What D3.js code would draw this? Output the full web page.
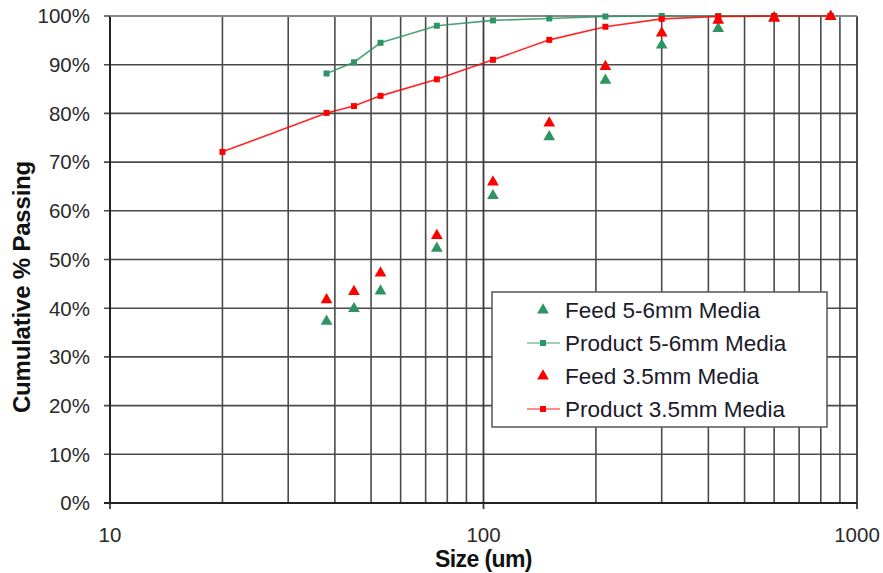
<!DOCTYPE html>
<html>
<head>
<meta charset="utf-8">
<script src="https://cdn.jsdelivr.net/npm/d3@7"></script>
<style>
  body { margin: 0; background: #fff; }
  svg { display: block; font-family: "Liberation Sans", Arial, sans-serif; }
</style>
</head>
<body>
<svg id="chart" width="883" height="573"></svg>
<script>
// sieve sizes (um)
var sizes = [38, 45, 53, 75, 106, 150, 212, 300, 425, 600, 850];
var sizes35 = [20, 38, 45, 53, 75, 106, 150, 212, 300, 425, 600, 850];
// cumulative % passing
var feed56 = [37.3, 39.9, 43.5, 52.3, 63.1, 75.2, 86.8, 94.0, 97.4, 99.7, 99.9];
var prod56 = [88.2, 90.5, 94.5, 98.0, 99.1, 99.5, 99.9, 100, 100, 100, 100];
var feed35 = [41.7, 43.4, 47.2, 54.9, 65.9, 78.0, 89.6, 96.5, 99.1, 99.5, 99.9];
var prod35 = [72.1, 80.1, 81.5, 83.6, 87.0, 91.0, 95.1, 97.8, 99.4, 99.9, 100, 100];

var xTicks = [10, 100, 1000];
var yTicks = [0, 10, 20, 30, 40, 50, 60, 70, 80, 90, 100];
var legendNames = ["Feed 5-6mm Media", "Product 5-6mm Media", "Feed 3.5mm Media", "Product 3.5mm Media"];

var green = "#2e9463", red = "#ff0000";

// plot area (window.top is reserved, so own names)
var pLeft = 110, pRight = 857, pTop = 16, pBottom = 503;

var x = d3.scaleLog().domain([10, 1000]).range([pLeft, pRight]);
var y = d3.scaleLinear().domain([0, 100]).range([pBottom, pTop]);

var svg = d3.select("#chart");

// grid: minor decade lines
var gridX = [];
for (var p = 10; p < 1000; p *= 10) {
    for (var k = 2; k <= 9; k++) gridX.push(p * k);
}
svg.append("g").selectAll("line")
    .data(gridX)
    .enter().append("line")
    .attr("x1", d => x(d)).attr("x2", d => x(d))
    .attr("y1", pTop).attr("y2", pBottom)
    .attr("stroke", "#4a4a4a").attr("stroke-width", 1.6);

svg.append("g").selectAll("line")
    .data(yTicks)
    .enter().append("line")
    .attr("x1", pLeft - 6).attr("x2", pRight)
    .attr("y1", d => y(d)).attr("y2", d => y(d))
    .attr("stroke", "#4a4a4a").attr("stroke-width", 1.6);

// major x lines
svg.append("g").selectAll("line")
    .data(xTicks)
    .enter().append("line")
    .attr("x1", d => x(d)).attr("x2", d => x(d))
    .attr("y1", pTop).attr("y2", pBottom + 6)
    .attr("stroke", "#3a3a3a").attr("stroke-width", 1.8);

// axes lines
svg.append("line").attr("x1", pLeft).attr("x2", pLeft).attr("y1", pTop).attr("y2", pBottom)
    .attr("stroke", "#222").attr("stroke-width", 2);
svg.append("line").attr("x1", pLeft - 6).attr("x2", pRight).attr("y1", pBottom).attr("y2", pBottom)
    .attr("stroke", "#222").attr("stroke-width", 2);
svg.append("line").attr("x1", pLeft).attr("x2", pRight).attr("y1", pTop).attr("y2", pTop)
    .attr("stroke", "#888").attr("stroke-width", 2);

// tick labels
svg.append("g").selectAll("text")
    .data(yTicks)
    .enter().append("text")
    .attr("x", 90).attr("y", d => y(d))
    .attr("dy", "0.36em")
    .attr("text-anchor", "end")
    .attr("font-size", 20.5)
    .attr("fill", "#2a2a2a")
    .text(d => d + "%");

svg.append("g").selectAll("text")
    .data(xTicks)
    .enter().append("text")
    .attr("x", d => x(d)).attr("y", 542)
    .attr("text-anchor", "middle")
    .attr("font-size", 20.5)
    .attr("fill", "#2a2a2a")
    .text(d => d);

// axis titles
svg.append("text")
    .attr("x", (pLeft + pRight) / 2).attr("y", 567)
    .attr("text-anchor", "middle")
    .attr("font-size", 23).attr("font-weight", "bold")
    .attr("letter-spacing", -0.6)
    .attr("fill", "#111")
    .text("Size (um)");

svg.append("text")
    .attr("transform", "translate(30,287) rotate(-90)")
    .attr("text-anchor", "middle")
    .attr("font-size", 24).attr("font-weight", "bold")
    .attr("letter-spacing", -0.2)
    .attr("fill", "#111")
    .text("Cumulative % Passing");

// series
var tri = d3.symbol().type(d3.symbolTriangle).size(60);
var line = d3.line().x(d => x(d[0])).y(d => y(d[1]));

function drawProduct(xs, vs, color) {
    var pts = xs.map((s, i) => [s, vs[i]]);
    svg.append("path")
        .attr("d", line(pts))
        .attr("fill", "none")
        .attr("stroke", color).attr("stroke-width", 1.6)
        .attr("stroke-opacity", 0.85);
    svg.append("g").selectAll("rect")
        .data(pts)
        .enter().append("rect")
        .attr("x", d => x(d[0]) - 3).attr("y", d => y(d[1]) - 3)
        .attr("width", 6).attr("height", 6)
        .attr("fill", color);
}

function drawFeed(xs, vs, color) {
    svg.append("g").selectAll("path")
        .data(xs.map((s, i) => [s, vs[i]]))
        .enter().append("path")
        .attr("d", tri)
        .attr("transform", d => `translate(${x(d[0])},${y(d[1])})`)
        .attr("fill", color);
}

drawFeed(sizes, feed56, green);
drawProduct(sizes, prod56, green);
drawFeed(sizes, feed35, red);
drawProduct(sizes35, prod35, red);

// legend
var lg = svg.append("g");
lg.append("rect")
    .attr("x", 492).attr("y", 292)
    .attr("width", 335).attr("height", 135)
    .attr("fill", "#fff")
    .attr("stroke", "#555").attr("stroke-width", 1.5);

var legendColors = [green, green, red, red];
legendNames.forEach(function (name, i) {
    var cy = 310 + i * 33;
    if (i % 2 === 0) {
        lg.append("path").attr("d", tri)
            .attr("transform", `translate(543,${cy})`)
            .attr("fill", legendColors[i]);
    } else {
        lg.append("line")
            .attr("x1", 527).attr("x2", 560)
            .attr("y1", cy).attr("y2", cy)
            .attr("stroke", legendColors[i]).attr("stroke-width", 1.6)
            .attr("stroke-opacity", 0.6);
        lg.append("rect")
            .attr("x", 540).attr("y", cy - 3)
            .attr("width", 6).attr("height", 6)
            .attr("fill", legendColors[i]);
    }
    lg.append("text")
        .attr("x", 565).attr("y", cy)
        .attr("dy", "0.36em")
        .attr("font-size", 22.5)
        .attr("fill", "#1a1a2a")
        .text(name);
});
</script>
</body>
</html>
